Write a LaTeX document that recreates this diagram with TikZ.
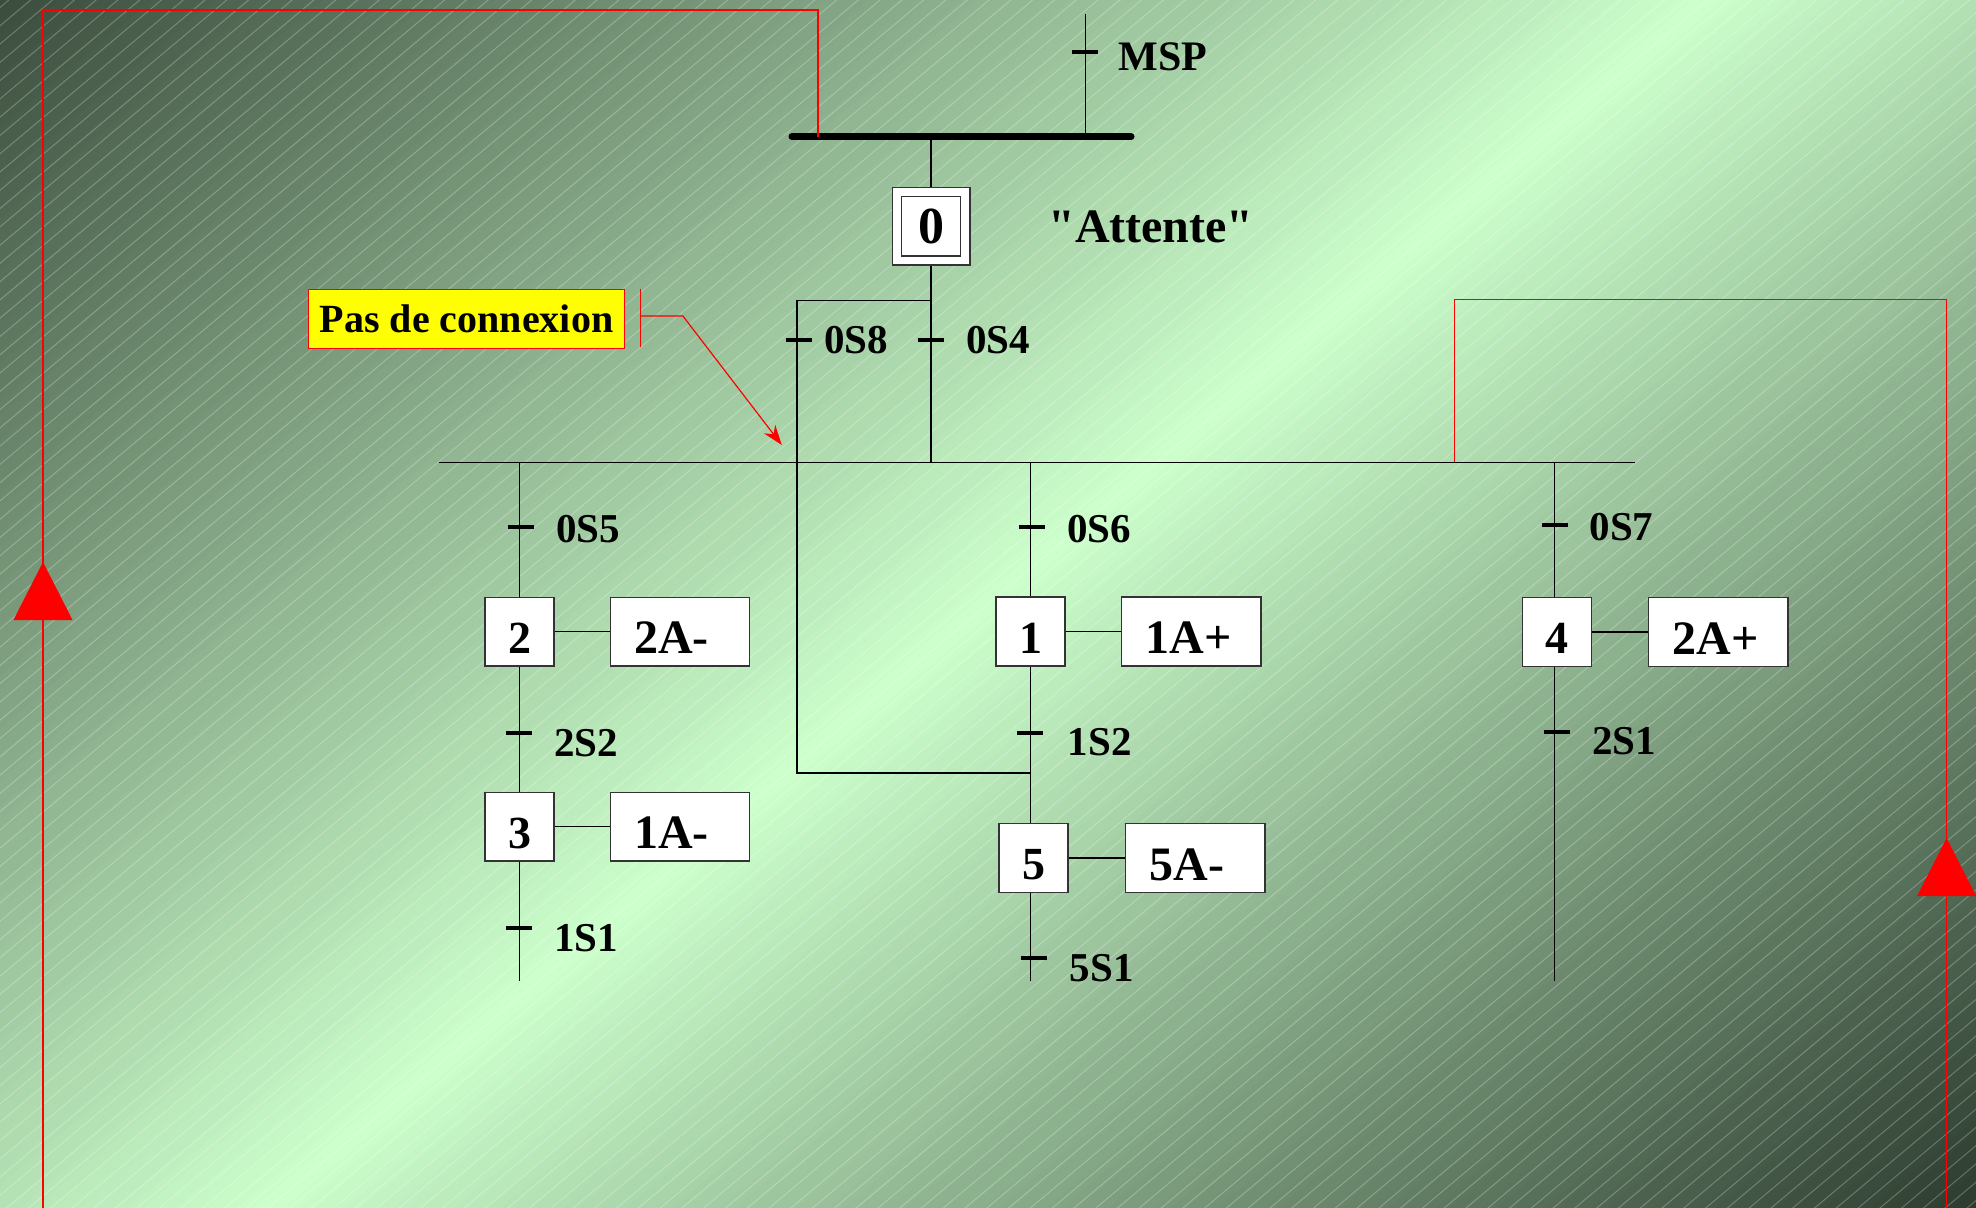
\documentclass[tikz,border=0pt]{standalone}
\usepackage{fontspec}
\setmainfont{Liberation Serif}[Ligatures=TeXOff]
\usetikzlibrary{arrows.meta,calc}
\definecolor{bgdarkA}{RGB}{59,76,61}
\definecolor{bgdarkB}{RGB}{44,59,47}
\definecolor{bglight}{RGB}{204,255,204}
\definecolor{boxline}{RGB}{51,51,51}
\definecolor{callred}{RGB}{255,0,0}
\definecolor{noteyellow}{RGB}{255,255,0}
\begin{document}
\begin{tikzpicture}[x=0.5pt,y=-0.5pt,
  conn/.style={draw=black, line width=0.65pt},
  tick/.style={draw=black, line width=2pt},
  redline/.style={draw=callred, line width=0.7pt},
  stepbox/.style={draw=boxline, fill=white, line width=0.75pt, minimum width=34.35pt,
    minimum height=34.35pt, inner sep=0pt, font=\fontsize{23}{26}\selectfont\bfseries,
    text height=21.5pt, text depth=0pt},
  actbox/.style={draw=boxline, fill=white, line width=0.75pt, minimum width=69.7pt,
    minimum height=34.35pt, inner xsep=12pt, inner ysep=0pt, text width=45.7pt, align=left,
    font=\fontsize{24}{28}\selectfont\bfseries, text height=22pt, text depth=0pt},
  lbl/.style={anchor=base west, inner sep=0pt, font=\fontsize{20.5}{24}\selectfont\bfseries},
]
\useasboundingbox (0,0) rectangle (1976,1208);
% background
\begin{scope}
  \clip (0,0) rectangle (1976,1208);
  \begin{scope}[shift={(988,604)}, rotate=-50]
    \foreach \s in {-1130,-1120,...,1120} {
      \pgfmathtruncatemacro\p{min(100,round(abs(\s+5)/11))}
      \ifnum\s<0 \colorlet{stripc}{bgdarkA!\p!bglight}\else\colorlet{stripc}{bgdarkB!\p!bglight}\fi
      \fill[stripc] (\s,-1400) rectangle (\s+12,1400);
    }
    \foreach \k in {-85,...,85}
      \draw[white, opacity=0.25, line width=0.5pt] (\k*14,-1400) -- (\k*14,1400);
  \end{scope}
\end{scope}

% coordinates
\coordinate (barL) at (792,136.7);
\coordinate (barR) at (1131,136.7);
\coordinate (mspTop) at (1085.7,14.3);
\coordinate (busL) at (438.5,462.3);
\coordinate (busR) at (1634.5,462.3);
\coordinate (c08) at (797,300.5);
\coordinate (loopB) at (1030.5,773);
\coordinate (rb) at (1554.3,462.3);
\coordinate (endy) at (0,981);

% top part
\draw[line width=3.5pt, line cap=round] (barL) -- (barR);
\draw[conn] (mspTop) -- (mspTop |- barL);
\node[draw=boxline, fill=white, line width=0.75pt, minimum size=38.75pt, inner sep=0pt] (s0) at (931,226.4) {};
\node[draw=boxline, line width=0.75pt, minimum size=29.7pt, inner sep=0pt,
  font=\fontsize{26}{30}\selectfont\bfseries] (s0i) at (s0.center) {0};
\draw[conn] (s0.north) -- (s0.north |- barL);
\draw[conn] (s0.south) -- (s0.south |- busL);
\draw[conn] (s0.south |- c08) -- (c08) -- (c08 |- loopB) -- (loopB);
\draw[conn] (busL) -- (busR);

% steps and actions
\node[stepbox] (s2) at (519.5,631.7) {2};
\node[actbox] (a2) at (680,631.7) {2A-};
\node[stepbox] (s3) at (519.5,826.7) {3};
\node[actbox] (a3) at (680,826.7) {1A-};
\node[stepbox] (s1) at (1030.5,631.5) {1};
\node[actbox] (a1) at (1191.4,631.5) {1A+};
\node[stepbox] (s5) at (1033.5,858) {5};
\node[actbox] (a5) at (1195.2,858) {5A-};
\node[stepbox] (s4) at (1557,632) {4};
\node[actbox] (a4) at (1718.2,632) {2A+};

% branch lines
\draw[conn] (s2.north |- busL) -- (s2.north);
\draw[conn] (s2.south) -- (s3.north);
\draw[conn] (s3.south) -- (s3.south |- endy);
\draw[conn] (s1.north |- busL) -- (s1.north);
\draw[conn] (s1.south) -- (s1.south |- s5.north);
\draw[conn] (s1.south |- s5.south) -- (s1.south |- endy);
\draw[conn] (rb) -- (rb |- s4.north);
\draw[conn] (rb |- s4.south) -- (rb |- endy);
\foreach \st/\ac in {s2/a2, s3/a3, s1/a1, s5/a5, s4/a4}
  \draw[conn] (\st.east) -- (\ac.west);

% transitions
\coordinate (tMSP) at (1085,51.7);
\coordinate (t08) at (798.5,340);
\coordinate (t04) at (930.6,340);
\coordinate (t05) at (521,527);
\coordinate (t22) at (519.2,732.7);
\coordinate (t11) at (519.2,927.7);
\coordinate (t06) at (1031.5,527);
\coordinate (t12) at (1030.3,732.7);
\coordinate (t51) at (1034,958.3);
\coordinate (t07) at (1555.4,525.4);
\coordinate (t21) at (1557,731.9);
\foreach \t in {tMSP,t08,t04,t05,t22,t11,t06,t12,t51,t07,t21}
  \draw[tick] ([xshift=-6.5pt]\t) -- ([xshift=6.5pt]\t);

% labels
\node[lbl, font=\fontsize{21}{24}\selectfont\bfseries] (lMSP) at (1118,70.7) {MSP};
\node[lbl, font=\fontsize{24}{28}\selectfont\bfseries] (lAtt) at (1048,242.3) {\symbol{"22}Attente\symbol{"22}};
\node[lbl] (l08) at (823.7,353.3) {0S8};
\node[lbl] (l04) at (965.7,353.3) {0S4};
\node[lbl] (l05) at (555.7,542) {0S5};
\node[lbl] (l06) at (1067,542) {0S6};
\node[lbl] (l07) at (1589.2,540.4) {0S7};
\node[lbl] (l22) at (553.7,756.7) {2S2};
\node[lbl] (l12) at (1067.3,755) {1S2};
\node[lbl] (l21) at (1591.8,754.7) {2S1};
\node[lbl] (l11) at (553.7,951) {1S1};
\node[lbl] (l51) at (1069.3,981.7) {5S1};

% callout
\node[draw=callred, fill=noteyellow, line width=0.7pt, minimum width=158pt, minimum height=29.5pt,
  inner sep=0pt, font=\fontsize{20}{24}\selectfont\bfseries] (pdc) at (466.6,318.8) {Pas de connexion};
\coordinate (brk) at (640.7,316);
\coordinate (knee) at (682.9,316);
\coordinate (tipc) at (781.8,445);
\draw[redline, line width=0.6pt] (640.7,289) -- (640.7,347);
\draw[redline, line width=0.6pt, -{Stealth[length=10pt,width=7pt]}] (brk) -- (knee) -- (tipc);

% red return loops
\coordinate (rl0) at (43,1215);
\coordinate (rl1) at (43,10);
\coordinate (rl2) at (818,10);
\draw[redline] (rl0) -- (rl1) -- (rl2) -- (rl2 |- barL);
\coordinate (arrL) at (43,562);
\fill[callred] (arrL) -- ++(29.5,58) -- ++(-59,0) -- cycle;
\coordinate (rr0) at (1454.4,462.3);
\coordinate (rr1) at (1454.4,299.5);
\coordinate (rr2) at (1946.6,299.5);
\coordinate (rr3) at (1946.6,1215);
\draw[redline] (rr0) -- (rr1) -- (rr2) -- (rr3);
\coordinate (arrR) at (1946.6,838);
\fill[callred] (arrR) -- ++(29.5,58) -- ++(-59,0) -- cycle;
\end{tikzpicture}
\end{document}
